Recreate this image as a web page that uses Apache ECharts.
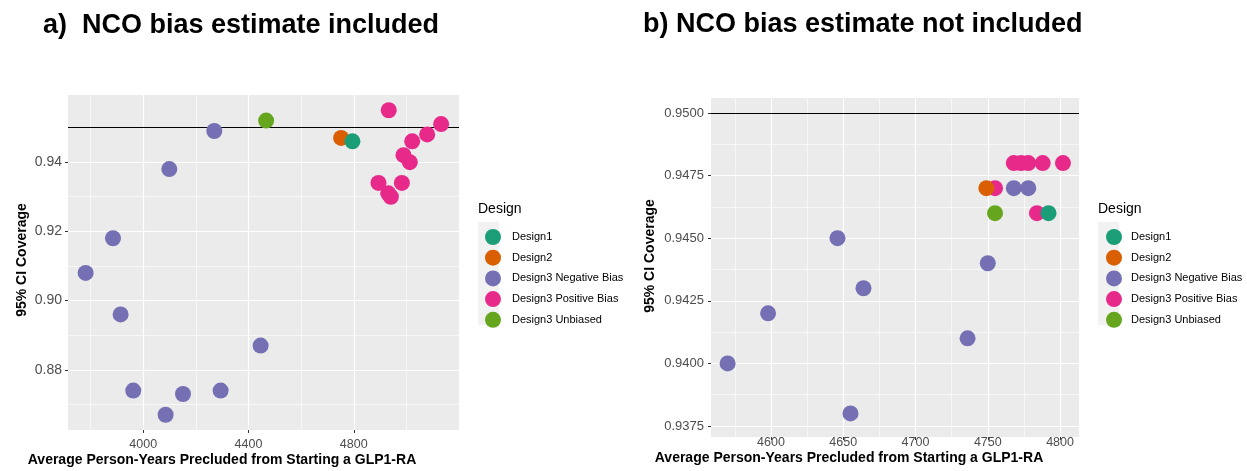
<!DOCTYPE html>
<html>
<head>
<meta charset="utf-8">
<script src="https://cdn.jsdelivr.net/npm/echarts@6/dist/echarts.min.js"></script>
<style>
  html, body { margin: 0; padding: 0; background: #fff; }
  #main { width: 1247px; height: 471px; }
</style>
</head>
<body>
<div id="main"></div>
<script>
// legend names
var designNames = ["Design1", "Design2", "Design3 Negative Bias", "Design3 Positive Bias", "Design3 Unbiased"];
var designColors = ["#1B9E77", "#D95F02", "#7570B3", "#E7298A", "#66A61E"];

// a) NCO bias estimate included  [person-years, coverage]
var d1Incl = [[4795, 0.946]];
var d2Incl = [[4752, 0.947]];
var negIncl = [[4270, 0.949], [4099, 0.938], [3885, 0.918], [3781, 0.908], [3914, 0.896],
               [4446, 0.887], [3962, 0.874], [4151, 0.873], [4294, 0.874], [4085, 0.867]];
var posIncl = [[4933, 0.955], [5132, 0.951], [5079, 0.948], [5022, 0.946], [4989, 0.942],
               [5013, 0.940], [4894, 0.934], [4983, 0.934], [4931, 0.931], [4941, 0.930]];
var unbIncl = [[4467, 0.952]];

// b) NCO bias estimate not included
var d1Excl = [[4792, 0.946]];
var d2Excl = [[4749, 0.947]];
var negExcl = [[4570, 0.940], [4598, 0.942], [4646, 0.945], [4664, 0.943], [4655, 0.938],
               [4736, 0.941], [4750, 0.944], [4768, 0.947], [4778, 0.947]];
var posExcl = [[4755, 0.947], [4768, 0.948], [4773, 0.948], [4778, 0.948], [4788, 0.948],
               [4802, 0.948], [4784, 0.946]];
var unbExcl = [[4755, 0.946]];

// tick values
var xMajorL = [4000, 4400, 4800];
var xMinorL = [3800, 4200, 4600, 5000];
var yMajorL = [0.88, 0.90, 0.92, 0.94];
var yMinorL = [0.87, 0.89, 0.91, 0.93, 0.95];
var xMajorR = [4600, 4650, 4700, 4750, 4800];
var xMinorR = [4575, 4625, 4675, 4725, 4775];
var yMajorR = [0.9375, 0.94, 0.9425, 0.945, 0.9475, 0.95];
var yMinorR = [0.93875, 0.94125, 0.94375, 0.94625, 0.94875];
var nominal = 0.95;

var FONT = "Liberation Sans, Arial, sans-serif";
var chart = echarts.init(document.getElementById("main"));

function majorAxis(grid, min, max, ticks, fmt, margin, size) {
    return {
        type: "value", gridIndex: grid, min: min, max: max,
        axisLine: { show: false },
        axisTick: { show: true, customValues: ticks, length: 3, lineStyle: { color: "#333", width: 1 } },
        axisLabel: { customValues: ticks, color: "#4d4d4d", fontSize: size, fontFamily: FONT,
                     margin: margin, formatter: fmt },
        splitLine: { show: true, lineStyle: { color: "#fff", width: 1.2 } }
    };
}
function minorAxis(grid, min, max, ticks) {
    return {
        type: "value", gridIndex: grid, min: min, max: max,
        axisLine: { show: false },
        axisTick: { show: false, customValues: ticks },
        axisLabel: { show: false, customValues: ticks },
        splitLine: { show: true, lineStyle: { color: "#fff", width: 0.6 } }
    };
}
function plain(v) { return String(v); }

//------------散点系列--------------
function pointSeries(name, data, xi, yi) {
    return {
        type: "scatter", name: name, data: data,
        xAxisIndex: xi, yAxisIndex: yi,
        symbol: "circle", symbolSize: 16,
        itemStyle: { color: designColors[designNames.indexOf(name)], opacity: 1 },
        emphasis: { disabled: true }
    };
}
function nominalLine(xi, yi) {
    return {
        type: "line", data: [], xAxisIndex: xi, yAxisIndex: yi, z: 1,
        markLine: {
            silent: true, symbol: "none", z: 1,
            label: { show: false },
            lineStyle: { color: "#000", width: 1.1, type: "solid" },
            data: [{ yAxis: nominal }]
        }
    };
}

var legendBase = {
    orient: "vertical", itemWidth: 16, itemHeight: 16, itemGap: 4.7, icon: "circle",
    selectedMode: false, data: designNames
};

var option = {
    animation: false,
    backgroundColor: "#fff",
    grid: [
        { left: 68, top: 95, width: 391, height: 335, show: true, backgroundColor: "#EBEBEB", borderWidth: 0 },
        { left: 711, top: 98, width: 368, height: 339, show: true, backgroundColor: "#EBEBEB", borderWidth: 0 }
    ],
    xAxis: [
        majorAxis(0, 3714, 5200, xMajorL, plain, 8, 12.5),
        minorAxis(0, 3714, 5200, xMinorL),
        majorAxis(1, 4558.5, 4813.1, xMajorR, plain, -1, 12.5),
        minorAxis(1, 4558.5, 4813.1, xMinorR)
    ],
    yAxis: [
        majorAxis(0, 0.8626, 0.9594, yMajorL, function (v) { return v.toFixed(2); }, 6, 14),
        minorAxis(0, 0.8626, 0.9594, yMinorL),
        majorAxis(1, 0.93706, 0.9506, yMajorR, function (v) { return v.toFixed(4); }, 7, 13),
        minorAxis(1, 0.93706, 0.9506, yMinorR)
    ],
    legend: [
        Object.assign({ left: 480, top: 224,
            textStyle: { fontSize: 11, color: "#000", fontFamily: FONT, padding: [0, 0, 0, 6] } }, legendBase),
        Object.assign({ left: 1101, top: 224,
            textStyle: { fontSize: 11, color: "#000", fontFamily: FONT, padding: [0, 0, 0, 4] } }, legendBase)
    ],
    graphic: [
        { type: "rect", z: 0, shape: { x: 478, y: 222, width: 21, height: 103 }, style: { fill: "#F2F2F2" } },
        { type: "rect", z: 0, shape: { x: 1098, y: 222, width: 21, height: 103 }, style: { fill: "#F2F2F2" } },
        { type: "text", x: 43, y: 26, style: { text: "a)  NCO bias estimate included", font: "bold 27px " + FONT,
            fill: "#000", textVerticalAlign: "middle" } },
        { type: "text", x: 643, y: 25, style: { text: "b) NCO bias estimate not included", font: "bold 27px " + FONT,
            fill: "#000", textVerticalAlign: "middle" } },
        { type: "text", x: 222, y: 460, style: { text: "Average Person-Years Precluded from Starting a GLP1-RA",
            font: "bold 14px " + FONT, fill: "#000", textAlign: "center", textVerticalAlign: "middle" } },
        { type: "text", x: 849, y: 458, style: { text: "Average Person-Years Precluded from Starting a GLP1-RA",
            font: "bold 14px " + FONT, fill: "#000", textAlign: "center", textVerticalAlign: "middle" } },
        { type: "text", x: 22, y: 260, rotation: Math.PI / 2, style: { text: "95% CI Coverage",
            font: "bold 14px " + FONT, fill: "#000", textAlign: "center", textVerticalAlign: "middle" } },
        { type: "text", x: 650, y: 256, rotation: Math.PI / 2, style: { text: "95% CI Coverage",
            font: "bold 14px " + FONT, fill: "#000", textAlign: "center", textVerticalAlign: "middle" } },
        { type: "text", x: 478, y: 209, style: { text: "Design", font: "14px " + FONT, fill: "#000",
            textVerticalAlign: "middle" } },
        { type: "text", x: 1098, y: 209, style: { text: "Design", font: "14px " + FONT, fill: "#000",
            textVerticalAlign: "middle" } }
    ],
    series: [
        nominalLine(0, 0),
        pointSeries("Design3 Negative Bias", negIncl, 0, 0),
        pointSeries("Design3 Positive Bias", posIncl, 0, 0),
        pointSeries("Design2", d2Incl, 0, 0),
        pointSeries("Design1", d1Incl, 0, 0),
        pointSeries("Design3 Unbiased", unbIncl, 0, 0),
        nominalLine(2, 2),
        pointSeries("Design3 Negative Bias", negExcl, 2, 2),
        pointSeries("Design3 Positive Bias", posExcl, 2, 2),
        pointSeries("Design2", d2Excl, 2, 2),
        pointSeries("Design1", d1Excl, 2, 2),
        pointSeries("Design3 Unbiased", unbExcl, 2, 2)
    ]
};
chart.setOption(option);
</script>
</body>
</html>
